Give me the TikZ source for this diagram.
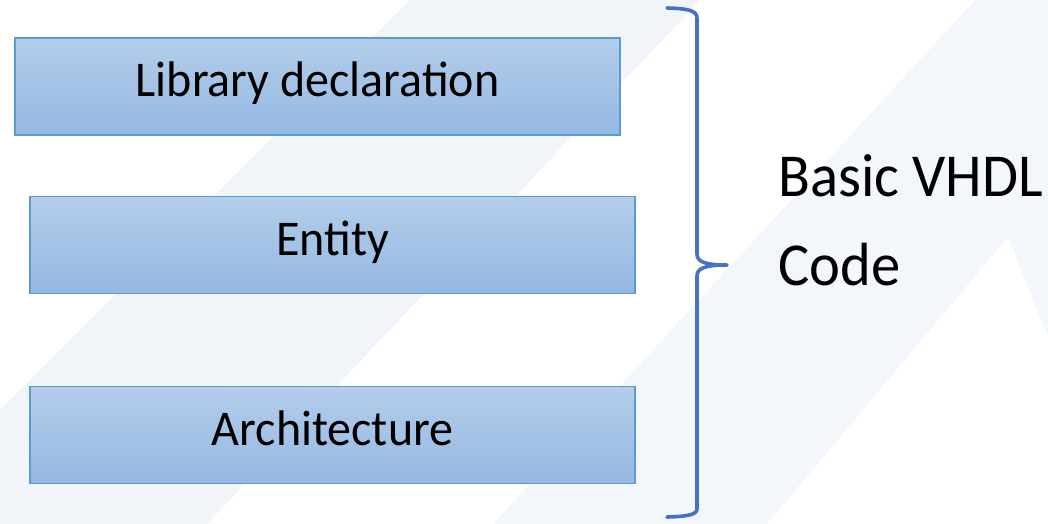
\documentclass[tikz,border=0pt]{standalone}
\usepackage{fontspec}
\setmainfont{Carlito}[FakeStretch=0.96]
\definecolor{bandgray}{HTML}{F1F4F8}
\definecolor{bandblue}{HTML}{F3F7FC}
\definecolor{boxtop}{HTML}{B3CDEA}
\definecolor{boxbot}{HTML}{95B8E2}
\definecolor{boxline}{HTML}{5B9BD5}
\definecolor{bracecol}{HTML}{4472C4}
\tikzset{
  stepbox/.style={draw=boxline, line width=1.3pt, top color=boxtop, bottom color=boxbot,
    minimum width=605pt, minimum height=97pt, inner sep=0pt, outer sep=0pt,
    font=\fontsize{50}{60}\selectfont, text height=33pt, text depth=13pt},
  sidelabel/.style={anchor=base west, inner sep=0pt, font=\fontsize{61}{74}\selectfont},
  bracestyle/.style={draw=bracecol, line width=3.6pt, line cap=round, line join=round}
}
\begin{document}
\begin{tikzpicture}[x=1pt,y=-1pt]
\useasboundingbox (0,0) rectangle (1048,524);
\fill[white] (0,0) rectangle (1048,524);
\begin{scope}
\clip (0,0) rectangle (1048,524);
% faint background bands
\fill[bandgray] (410,0) -- (700,0) -- (207,524) -- (-114,524) -- cycle;
\fill[bandblue] (975,0) -- (1100,0) -- (1100,524) -- (1123,524) -- (1008,237) -- (767,524) -- (493,524) -- cycle;
\end{scope}
% boxes
\node[stepbox] (lib)  at (317.5,86.5) {Library declaration};
\node[stepbox] (ent)  at (332.5,245)  {Entity};
\node[stepbox] (arch) at (332.5,435)  {Architecture};
% brace
\coordinate (btop) at (667,8);
\coordinate (bbot) at (667,517);
\coordinate (btip) at (727,265);
\draw[bracestyle] (btop) .. controls (686,8.5) and (697,10) .. (697,18)
  -- (697,254) .. controls (697,261) and (703,265) .. (btip)
  .. controls (703,265) and (697,269) .. (697,276)
  -- (697,509) .. controls (697,515) and (686,516.5) .. (bbot);
% label
\node[sidelabel] (lbl1) at (778,196) {Basic VHDL};
\node[sidelabel] (lbl2) at (778,285) {Code};
\end{tikzpicture}
\end{document}
